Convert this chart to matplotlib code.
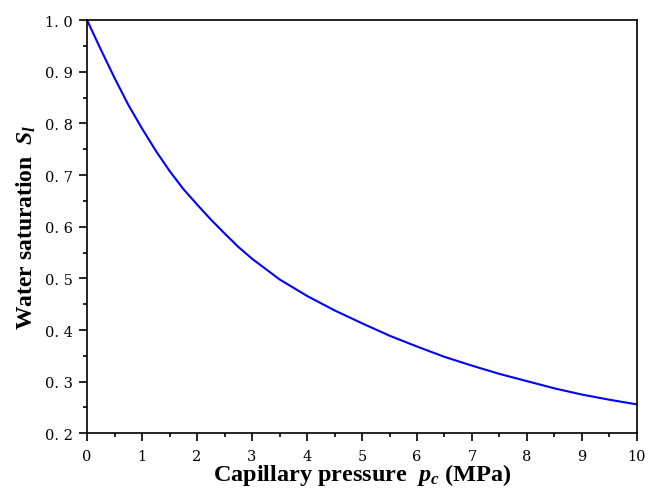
import matplotlib
matplotlib.use("Agg")
import matplotlib.pyplot as plt
from matplotlib.ticker import MultipleLocator, FuncFormatter

# Capillary pressure (MPa) and water saturation
pc = [0.0, 0.25, 0.5, 0.75, 1.0, 1.25, 1.5, 1.75, 2.0, 2.25, 2.5, 2.75, 3.0,
      3.5, 4.0, 4.5, 5.0, 5.5, 6.0, 6.5, 7.0, 7.5, 8.0, 8.5, 9.0, 9.5, 10.0]
sl = [1.0, 0.943, 0.888, 0.836, 0.790, 0.747, 0.708, 0.673, 0.643, 0.614,
      0.587, 0.561, 0.538, 0.498, 0.466, 0.438, 0.413, 0.389, 0.368, 0.348,
      0.331, 0.315, 0.301, 0.287, 0.275, 0.265, 0.256]


def plot(path="out.png"):
    fig = plt.figure(figsize=(6.48, 4.89), dpi=100)
    ax = fig.add_axes([0.1343, 0.1118, 0.8487, 0.8452])

    ax.plot(pc, sl, color="blue", linewidth=1.5)

    ax.set_xlim(0, 10)
    ax.set_ylim(0.2, 1.0)
    ax.xaxis.set_major_locator(MultipleLocator(1))
    ax.xaxis.set_minor_locator(MultipleLocator(0.5))
    ax.yaxis.set_major_locator(MultipleLocator(0.1))
    ax.yaxis.set_minor_locator(MultipleLocator(0.05))
    ax.yaxis.set_major_formatter(FuncFormatter(lambda v, _: f"{v:.1f}".replace(".", ". ")))

    ax.tick_params(which="both", direction="out", top=False, right=False,
                   labelsize=10.5, width=1.2)
    ax.tick_params(which="major", length=6, pad=4)
    ax.tick_params(axis="x", which="major", pad=5)
    ax.tick_params(which="minor", length=3)
    for lab in ax.get_xticklabels() + ax.get_yticklabels():
        lab.set_family("DejaVu Serif")
    for s in ax.spines.values():
        s.set_linewidth(1.2)

    ax.set_xlabel(r"Capillary pressure  $\boldsymbol{p_c}$ (MPa)", family="Liberation Serif",
                  fontsize=17.5, fontweight="bold", labelpad=-1)
    ax.set_ylabel(r"Water saturation  $S_l$", family="Liberation Serif",
                  fontsize=17, fontweight="bold", labelpad=5)

    fig.savefig(path, dpi=100)


if __name__ == "__main__":
    plt.rcParams["mathtext.fontset"] = "custom"
    plt.rcParams["mathtext.it"] = "Liberation Serif:italic:bold"
    plt.rcParams["mathtext.bf"] = "Liberation Serif:italic:bold"
    plot()
